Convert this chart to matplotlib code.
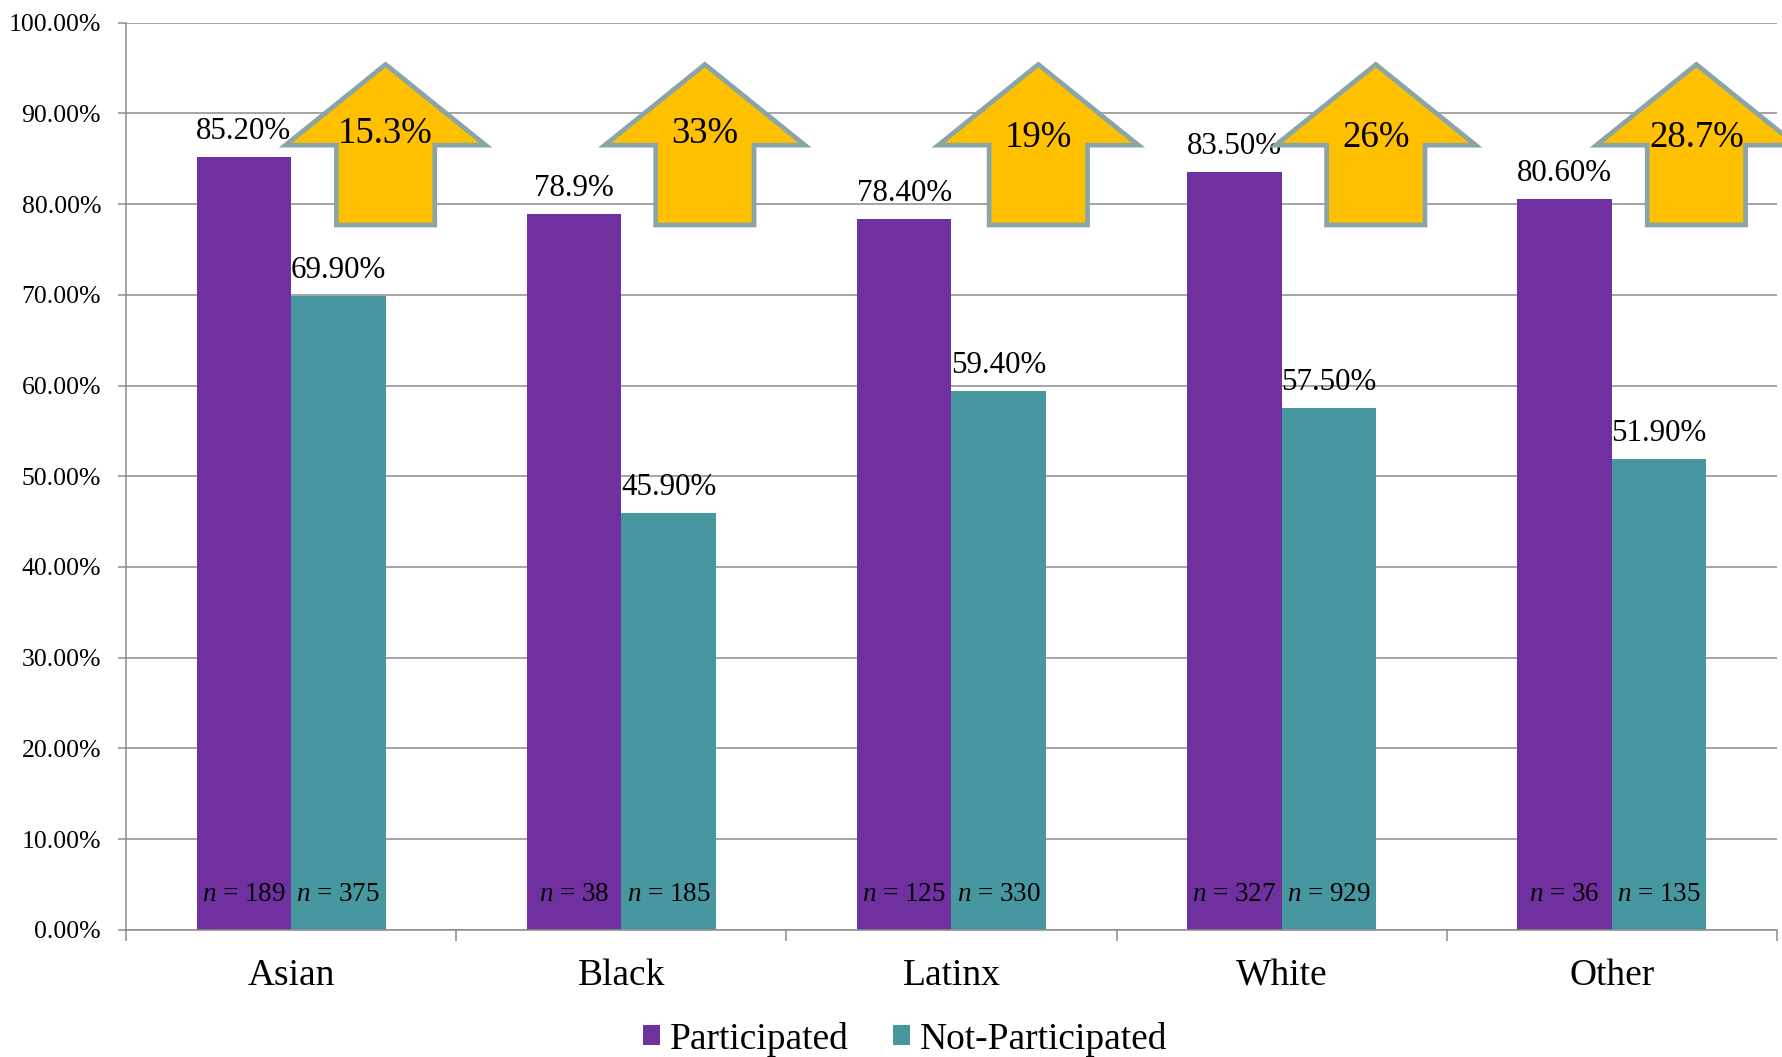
import matplotlib
matplotlib.use('Agg')
import matplotlib.pyplot as plt
import numpy as np
from matplotlib.patches import Polygon, Patch
from matplotlib.ticker import FixedLocator, PercentFormatter

plt.rcParams['font.family'] = ['Liberation Serif', 'DejaVu Serif']
plt.rcParams['mathtext.fontset'] = 'custom'
plt.rcParams['mathtext.rm'] = 'Liberation Serif'
plt.rcParams['mathtext.it'] = 'Liberation Serif:italic'

# ---------------- data ----------------
categories = ['Asian', 'Black', 'Latinx', 'White', 'Other']
participated = [85.2, 78.9, 78.4, 83.5, 80.6]
not_participated = [69.9, 45.9, 59.4, 57.5, 51.9]
participated_labels = ['85.20%', '78.9%', '78.40%', '83.50%', '80.60%']
not_participated_labels = ['69.90%', '45.90%', '59.40%', '57.50%', '51.90%']
n_participated = [189, 38, 125, 327, 36]
n_not_participated = [375, 185, 330, 929, 135]
increase_labels = ['15.3%', '33%', '19%', '26%', '28.7%']
series_names = ['Participated', 'Not-Participated']

# ---------------- layout / style ----------------
PURPLE = '#7030A0'
TEAL = '#46979F'
ARROW_FILL = '#FFC000'
ARROW_EDGE = '#8AA5A7'
GRID = '#8C8C8C'
arrow_offsets = [0.286, 0.253, 0.263, 0.285, 0.256]
arrow_label_y = [87.8, 87.8, 87.3, 87.3, 87.3]
ARROW_TIP, ARROW_BASE, ARROW_BOTTOM = 95.4, 86.5, 77.7
HEAD_HALF, SHAFT_HALF = 0.303, 0.149
bar_w = 0.286

fig = plt.figure(figsize=(17.83, 10.57), dpi=100)
ax = fig.add_axes([0.0707, 0.1204, 0.9259, 0.8581])

x = np.arange(len(categories))
ax.bar(x - bar_w / 2, participated, bar_w, color=PURPLE, zorder=2)
ax.bar(x + bar_w / 2, not_participated, bar_w, color=TEAL, zorder=2)

ax.set_xlim(-0.5, len(categories) - 0.5)
ax.set_ylim(0, 100)

# grid & spines
ax.yaxis.set_major_locator(FixedLocator(np.arange(0, 101, 10)))
ax.yaxis.set_major_formatter(PercentFormatter(decimals=2))
ax.grid(axis='y', color=GRID, linewidth=1.1, zorder=0)
ax.set_axisbelow(True)
for s in ['top', 'right']:
    ax.spines[s].set_visible(False)
for s in ['left', 'bottom']:
    ax.spines[s].set_color(GRID)
    ax.spines[s].set_linewidth(1.1)

ax.tick_params(axis='y', which='major', length=6, width=1.1, color=GRID,
               direction='out', labelsize=18.5, pad=12)
ax.set_xticks(x)
ax.set_xticklabels(categories)
ax.set_xticks(np.arange(-0.5, len(categories)), minor=True)
ax.tick_params(axis='x', which='major', length=0, labelsize=27, pad=21)
ax.tick_params(axis='x', which='minor', length=8, width=1.1, color=GRID,
               direction='out')

# value labels
for xi, v, lab in zip(x - bar_w / 2, participated, participated_labels):
    ax.annotate(lab, (xi, v), xytext=(0, 13), textcoords='offset points',
                ha='center', va='baseline', fontsize=22.3, zorder=3)
for xi, v, lab in zip(x + bar_w / 2, not_participated, not_participated_labels):
    ax.annotate(lab, (xi, v), xytext=(0, 13), textcoords='offset points',
                ha='center', va='baseline', fontsize=22.3, zorder=3)

# n labels
for xi, n in zip(x - bar_w / 2, n_participated):
    ax.text(xi, 3.2, r'$n$ = %d' % n, ha='center', va='baseline',
            fontsize=19.5, zorder=3)
for xi, n in zip(x + bar_w / 2, n_not_participated):
    ax.text(xi, 3.2, r'$n$ = %d' % n, ha='center', va='baseline',
            fontsize=19.5, zorder=3)

# arrows
for xi, off, ly, lab in zip(x, arrow_offsets, arrow_label_y, increase_labels):
    cx = xi + off
    verts = [(cx, ARROW_TIP), (cx + HEAD_HALF, ARROW_BASE),
             (cx + SHAFT_HALF, ARROW_BASE), (cx + SHAFT_HALF, ARROW_BOTTOM),
             (cx - SHAFT_HALF, ARROW_BOTTOM), (cx - SHAFT_HALF, ARROW_BASE),
             (cx - HEAD_HALF, ARROW_BASE)]
    poly = Polygon(verts, closed=True, facecolor=ARROW_FILL,
                   edgecolor=ARROW_EDGE, linewidth=3.4, joinstyle='miter',
                   zorder=4, clip_on=False)
    ax.add_patch(poly)
    ax.text(cx, ly, lab, ha='center', va='center', fontsize=26.5, zorder=5)

# legend
handles = [Patch(facecolor=PURPLE, edgecolor='none'),
           Patch(facecolor=TEAL, edgecolor='none')]
fig.legend(handles, series_names, loc='center', bbox_to_anchor=(0.5076, 0.017),
           ncol=2, frameon=False, fontsize=27, handlelength=0.45,
           handleheight=0.45, handletextpad=0.25, columnspacing=1.2,
           borderaxespad=0, borderpad=0)

fig.savefig('out.png', dpi=100)
